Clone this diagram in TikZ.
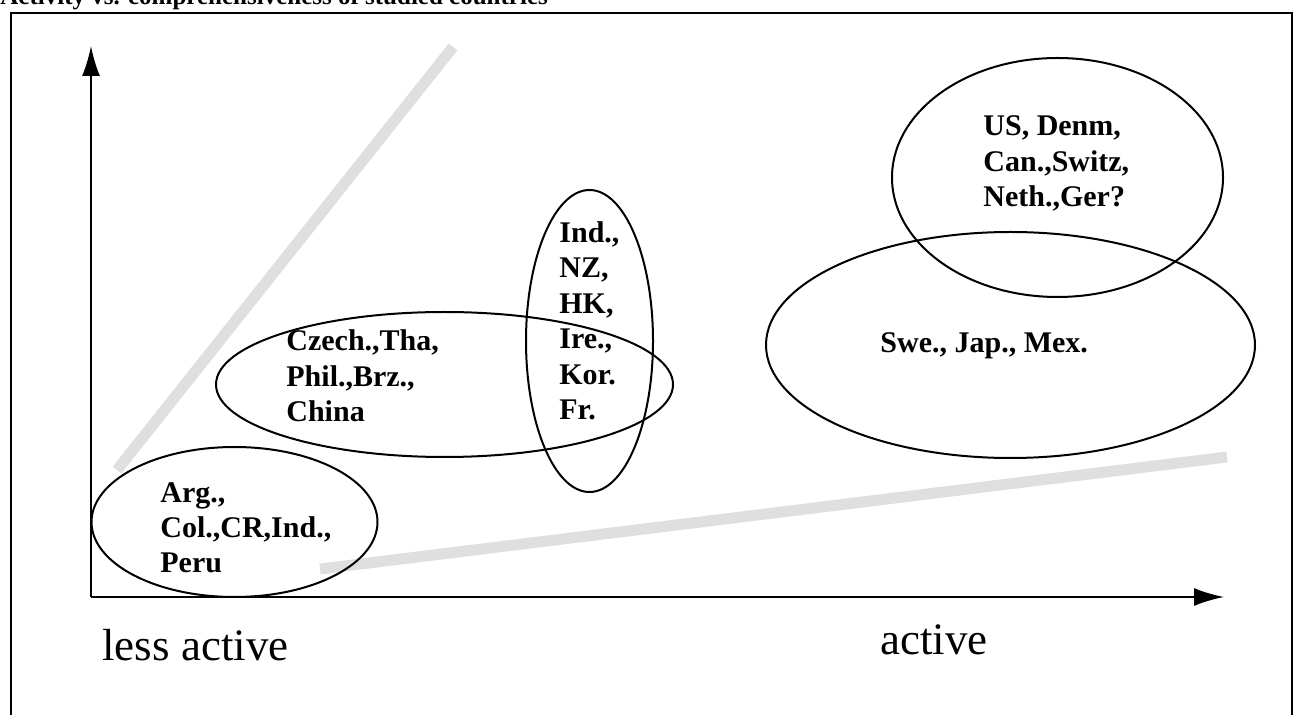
\documentclass[tikz,border=0pt]{standalone}
\usepackage{fontspec}
\setmainfont{Liberation Serif}
\usetikzlibrary{arrows.meta,shapes.geometric}

\begin{document}
\begin{tikzpicture}[x=0.5pt,y=-0.5pt,
  group/.style={draw,ellipse,line width=1pt,inner sep=0pt},
  names/.style={font=\fontsize{15}{17.75}\selectfont\bfseries,align=left,anchor=base west,inner sep=0pt},
  band/.style={line width=5.5pt,gray!25},
  axis/.style={line width=1pt,-{Latex[length=15pt,width=9pt]}},
  scale label/.style={font=\fontsize{22.5}{27}\selectfont,anchor=base west,inner sep=0pt}]
\useasboundingbox (0,0) rectangle (1295,715);

\node[font=\fontsize{12.5}{15}\selectfont\bfseries,anchor=base west,inner sep=0pt] (title) at (0,5) {Activity vs. comprehensiveness of studied countries};
\draw[line width=1.2pt] (11,13) rectangle (1292,740);

% grey bands
\coordinate (b1s) at (117,470);
\coordinate (b1e) at (453,47);
\coordinate (b2s) at (320,569);
\coordinate (b2e) at (1227,457);
\draw[band] (b1s)--(b1e);
\draw[band] (b2s)--(b2e);

% axes
\coordinate (origin) at (91,597);
\coordinate (ytip) at (91,46);
\coordinate (xtip) at (1224,597);
\draw[axis] (origin)--(ytip);
\draw[axis] (origin)--(xtip);

\node[group,minimum width=143pt,minimum height=75pt] (arg) at (234.5,522) {};
\node[group,minimum width=228.5pt,minimum height=72.5pt] (czech) at (444.5,384.5) {};
\node[group,minimum width=63.5pt,minimum height=151pt] (ind) at (589.5,341) {};
\node[group,minimum width=165.5pt,minimum height=119.5pt] (us) at (1057.5,177.5) {};
\node[group,minimum width=244.5pt,minimum height=113pt] (swe) at (1010.5,345) {};

\node[names] (argtext) at (160,573) {Arg.,\\Col.,CR,Ind.,\\Peru};
\node[names] (czechtext) at (286,422) {Czech.,Tha,\\Phil.,Brz.,\\China};
\node[names] (indtext) at (559,420) {Ind.,\\NZ,\\HK,\\Ire.,\\Kor.\\Fr.};
\node[names] (ustext) at (983,207) {US, Denm,\\Can.,Switz,\\Neth.,Ger?};
\node[names] (swetext) at (880,353) {Swe., Jap., Mex.};

\node[scale label] (less) at (102,660) {less active};
\node[scale label] (more) at (880,654) {active};
\end{tikzpicture}
\end{document}
